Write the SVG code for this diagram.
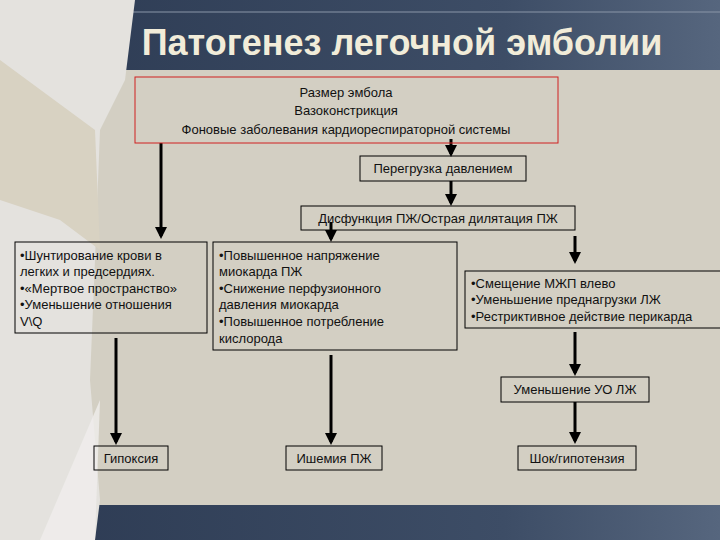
<svg xmlns="http://www.w3.org/2000/svg" width="720" height="540" viewBox="0 0 720 540">
<defs>
<marker id="ah" markerWidth="4" markerHeight="4" refX="3" refY="2" orient="auto" markerUnits="strokeWidth"><path d="M0,0 L4,2 L0,4 Z" fill="#000"/></marker>
<linearGradient id="hdr" x1="0" y1="0" x2="1" y2="0"><stop offset="0" stop-color="#2c3a52"/><stop offset="0.7" stop-color="#3d4d66"/><stop offset="1" stop-color="#56667e"/></linearGradient>
</defs>
<style>
.t{font-family:"Liberation Sans",Arial,sans-serif;font-size:13px;fill:#111}
.b{fill:none;stroke:#000;stroke-width:1}
.c{stroke:#000;stroke-width:3;fill:none;marker-end:url(#ah)}
</style>
<rect width="720" height="540" fill="#d3cfc3"/>
<rect width="720" height="70" fill="url(#hdr)"/>
<line x1="0" y1="12" x2="720" y2="12" stroke="#8a96a8" stroke-width="1"/>
<rect y="505" width="720" height="35" fill="url(#hdr)"/>
<polygon points="0,0 135,0 125,80 100,130 95,260 90,380 100,500 95,540 0,540" fill="#e4e2de"/>
<polygon points="0,60 95,130 100,250 60,220 0,200" fill="#d8d2c2"/>
<polygon points="100,400 95,540 40,540 70,470" fill="#f0eeec" opacity="0.8"/>
<text x="402" y="55" text-anchor="middle" font-family="Liberation Sans,Arial,sans-serif" font-weight="bold" font-size="36" fill="#f1ecd9">Патогенез легочной эмболии</text>
<g id="connectors">
<line class="c" x1="161" y1="143" x2="161" y2="236"/>
<line class="c" x1="451" y1="139" x2="451" y2="154"/>
<line class="c" x1="451" y1="181" x2="451" y2="203"/>
<line class="c" x1="331" y1="222" x2="331" y2="239"/>
<line class="c" x1="575" y1="236" x2="575" y2="261"/>
<line class="c" x1="575" y1="332" x2="575" y2="373"/>
<line class="c" x1="575" y1="402" x2="575" y2="441"/>
<line class="c" x1="116" y1="338" x2="116" y2="442"/>
<line class="c" x1="331" y1="355" x2="331" y2="442"/>
</g>
<g id="n-top"><rect x="135" y="77" width="423" height="66" fill="none" stroke="#d02020"/>
<text class="t" text-anchor="middle"><tspan x="346" y="97">Размер эмбола</tspan><tspan x="346" y="115">Вазоконстрикция</tspan><tspan x="346" y="134">Фоновые заболевания кардиореспираторной системы</tspan></text></g>
<g id="n-overload"><rect class="b" x="360" y="156" width="166" height="25"/><text class="t" x="443" y="173" text-anchor="middle">Перегрузка давлением</text></g>
<g id="n-dysf"><rect class="b" x="301" y="206" width="274" height="24"/><text class="t" x="438" y="223" text-anchor="middle">Дисфункция ПЖ/Острая дилятация ПЖ</text></g>
<g id="n-b1"><rect class="b" x="15" y="242" width="192" height="91"/>
<text class="t"><tspan x="20" y="260">•Шунтирование крови в</tspan><tspan x="20" y="276">легких и предсердиях.</tspan><tspan x="20" y="293">•«Мертвое пространство»</tspan><tspan x="20" y="309">•Уменьшение отношения</tspan><tspan x="20" y="326">V\Q</tspan></text></g>
<g id="n-b2"><rect class="b" x="213" y="242" width="244" height="108"/>
<text class="t"><tspan x="219" y="260">•Повышенное напряжение</tspan><tspan x="219" y="276">миокарда ПЖ</tspan><tspan x="219" y="293">•Снижение перфузионного</tspan><tspan x="219" y="309">давления миокарда</tspan><tspan x="219" y="326">•Повышенное потребление</tspan><tspan x="219" y="343">кислорода</tspan></text></g>
<g id="n-b3"><rect class="b" x="465" y="271" width="260" height="57"/>
<text class="t"><tspan x="471" y="288">•Смещение МЖП влево</tspan><tspan x="471" y="304">•Уменьшение преднагрузки ЛЖ</tspan><tspan x="471" y="321">•Рестриктивное действие перикарда</tspan></text></g>
<g id="n-uo"><rect class="b" x="501" y="377" width="148" height="25"/><text class="t" x="575" y="394" text-anchor="middle">Уменьшение УО ЛЖ</text></g>
<g id="n-hyp"><rect class="b" x="94" y="446" width="74" height="24"/><text class="t" x="131" y="463" text-anchor="middle">Гипоксия</text></g>
<g id="n-isch"><rect class="b" x="286" y="446" width="96" height="24"/><text class="t" x="334" y="463" text-anchor="middle">Ишемия ПЖ</text></g>
<g id="n-shock"><rect class="b" x="518" y="446" width="118" height="24"/><text class="t" x="577" y="463" text-anchor="middle">Шок/гипотензия</text></g>
</svg>
